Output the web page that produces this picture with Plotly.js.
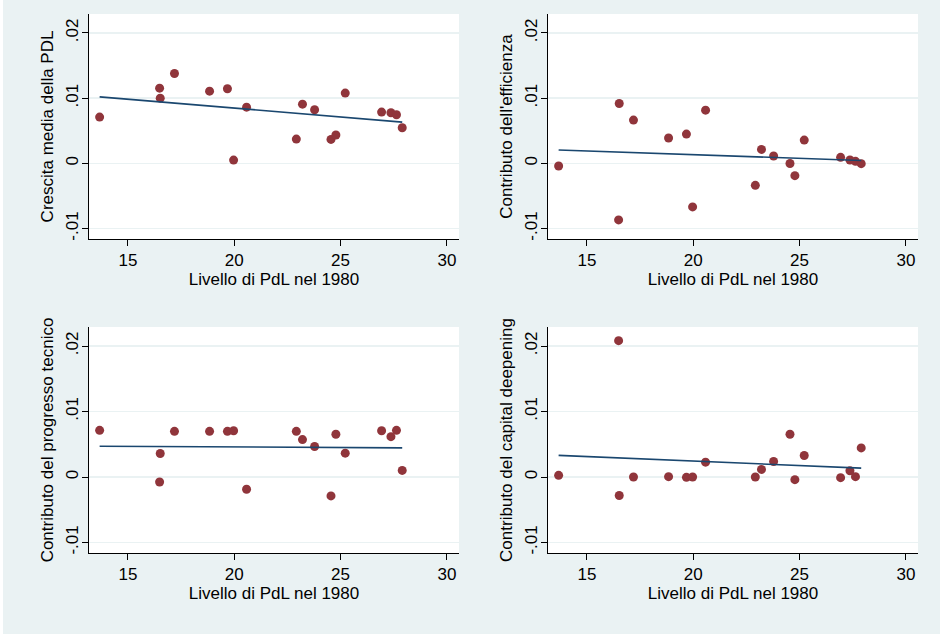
<!DOCTYPE html>
<html>
<head>
<meta charset="utf-8">
<script src="https://cdn.plot.ly/plotly-3.0.1.min.js"></script>
<style>html,body{margin:0;padding:0;background:#eaf2f3;}#chart{width:940px;height:634px;}</style>
</head>
<body>
<div id="chart"></div>
<script>
// Livello di PdL nel 1980 (common x for all panels)
const pdl1980 = [13.67, 16.49, 16.52, 17.19, 18.84, 19.68, 19.97, 20.58, 22.92, 23.21, 23.78, 24.55, 24.78, 25.22, 26.93, 27.37, 27.63, 27.90];
// Crescita media della PDL
const crescita = [0.00709, 0.01153, 0.01000, 0.01378, 0.01107, 0.01143, 0.00050, 0.00862, 0.00372, 0.00908, 0.00821, 0.00367, 0.00434, 0.01077, 0.00786, 0.00776, 0.00745, 0.00546];
// Contributo dell'efficienza
const efficienza = [-0.00041, -0.00867, 0.00918, 0.00663, 0.00388, 0.00449, -0.00668, 0.00816, -0.00337, 0.00214, 0.00112, -0.00003, -0.00189, 0.00357, 0.00092, 0.00051, 0.00031, -0.00005];
// Contributo del progresso tecnico
const progresso = [0.00712, -0.00076, 0.00359, 0.00697, 0.00697, 0.00697, 0.00707, -0.00187, 0.00697, 0.00571, 0.00465, -0.00288, 0.00652, 0.00364, 0.00707, 0.00616, 0.00712, 0.00101];
// Contributo del capital deepening
const capital = [0.00025, 0.02081, -0.00283, 0.00000, 0.00005, -0.00005, 0.00000, 0.00227, 0.00000, 0.00116, 0.00237, 0.00652, -0.00040, 0.00328, -0.00010, 0.00096, 0.00005, 0.00444];

const yTitles = ["Crescita media della PDL", "Contributo dell'efficienza", "Contributo del progresso tecnico", "Contributo del capital deepening"];
const xTitle = "Livello di PdL nel 1980";
const yTickVals = [-0.01, 0, 0.01, 0.02];
const yTickText = ["-.01", "0", ".01", ".02"];
const xTickVals = [15, 20, 25, 30];

const series = [crescita, efficienza, progresso, capital];

function ols(x, y) {
  const n = x.length;
  let mx = 0, my = 0;
  for (let i = 0; i < n; i++) { mx += x[i]; my += y[i]; }
  mx /= n; my /= n;
  let sxy = 0, sxx = 0;
  for (let i = 0; i < n; i++) { sxy += (x[i]-mx)*(y[i]-my); sxx += (x[i]-mx)*(x[i]-mx); }
  const b = sxy / sxx;
  return { a: my - b*mx, b: b };
}

const FONT = "Liberation Sans, Arial, Helvetica, sans-serif";
const traces = [];
const xmin = Math.min(...pdl1980), xmax = Math.max(...pdl1980);
series.forEach((ys, i) => {
  const ax = i === 0 ? "" : String(i+1);
  traces.push({
    type: "scatter", mode: "markers", x: pdl1980, y: ys,
    xaxis: "x"+ax, yaxis: "y"+ax,
    marker: { color: "#90353b", size: 9 },
    showlegend: false, hoverinfo: "x+y"
  });
  const f = ols(pdl1980, ys);
  traces.push({
    type: "scatter", mode: "lines", x: [xmin, xmax], y: [f.a + f.b*xmin, f.a + f.b*xmax],
    xaxis: "x"+ax, yaxis: "y"+ax,
    line: { color: "#1a476f", width: 1.6 },
    showlegend: false, hoverinfo: "skip"
  });
});

const W = 940, H = 634;
const xDom = [[89/W, 459/W], [548/W, 918/W], [89/W, 459/W], [548/W, 918/W]];
const yDom = [[(H-239)/H, (H-14)/H], [(H-239)/H, (H-14)/H], [(H-553)/H, (H-327)/H], [(H-553)/H, (H-327)/H]];

const layout = {
  width: W, height: H,
  margin: { l: 0, r: 0, t: 0, b: 0 },
  paper_bgcolor: "#eaf2f3",
  plot_bgcolor: "#ffffff",
  font: { family: FONT, size: 17, color: "#000000" },
  showlegend: false,
  shapes: [
    { type: "rect", xref: "paper", yref: "paper", x0: 0, x1: 3/W, y0: 0, y1: 1, fillcolor: "#ffffff", line: { width: 0 }, layer: "below" }
  ]
};

for (let i = 0; i < 4; i++) {
  const s = i === 0 ? "" : String(i+1);
  layout["xaxis"+s] = {
    domain: xDom[i], anchor: "y"+s,
    range: [13.17, 30.57],
    tickvals: xTickVals, ticks: "outside", ticklen: 6, tickwidth: 1, tickcolor: "#000",
    showline: true, linecolor: "#000", linewidth: 1,
    showgrid: false, zeroline: false,
    tickfont: { family: FONT, size: 17, color: "#000" },
    title: { text: xTitle, font: { family: FONT, size: 17, color: "#000" }, standoff: 0 },
    automargin: false
  };
  layout["yaxis"+s] = {
    domain: yDom[i], anchor: "x"+s,
    range: [-0.0116, 0.0229],
    tickvals: yTickVals, ticktext: yTickText, tickangle: -90,
    ticks: "outside", ticklen: 6, tickwidth: 1, tickcolor: "#000",
    ticklabelstandoff: -3,
    showline: true, linecolor: "#000", linewidth: 1,
    showgrid: true, gridcolor: "#eaf2f3", gridwidth: 1.5, zeroline: false,
    tickfont: { family: FONT, size: 17, color: "#000" },
    title: { text: yTitles[i], font: { family: FONT, size: 17, color: "#000" }, standoff: 5 },
    automargin: false
  };
}

Plotly.newPlot("chart", traces, layout, { displayModeBar: false, staticPlot: true });
</script>
</body>
</html>
